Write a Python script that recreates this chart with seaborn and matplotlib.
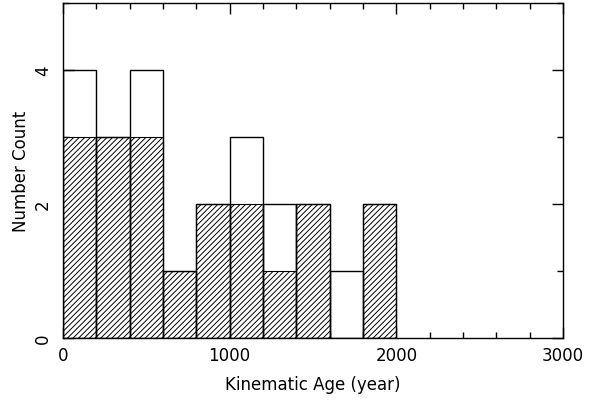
import numpy as np
import pandas as pd
import matplotlib
matplotlib.use("Agg")
import matplotlib.pyplot as plt
import seaborn as sns
from matplotlib.ticker import MultipleLocator

bin_edges = [0, 200, 400, 600, 800, 1000, 1200, 1400, 1600, 1800, 2000]
total_counts = [4, 3, 4, 1, 2, 3, 2, 2, 1, 2]
hatched_counts = [3, 3, 3, 1, 2, 2, 1, 2, 0, 2]

centers = [(a + b) / 2 for a, b in zip(bin_edges[:-1], bin_edges[1:])]
df = pd.DataFrame({"age": centers, "total": total_counts, "sub": hatched_counts})

sns.set_style("ticks")
plt.rcParams["hatch.linewidth"] = 0.7
plt.rcParams["font.family"] = ["DejaVu Sans"]
plt.rcParams["text.color"] = "black"
plt.rcParams["axes.labelcolor"] = "black"
plt.rcParams["xtick.color"] = "black"
plt.rcParams["ytick.color"] = "black"

fig = plt.figure(figsize=(5.92, 4.06), dpi=100)
ax = fig.add_axes([63 / 592, (406 - 339) / 406, 500 / 592, 335 / 406])

sns.histplot(data=df, x="age", weights="sub", bins=bin_edges, ax=ax,
             element="bars", fill=True, color="white", edgecolor="black",
             linewidth=0.8, hatch="//////", alpha=1.0)
sns.histplot(data=df, x="age", weights="total", bins=bin_edges, ax=ax,
             element="bars", fill=False, color="black", edgecolor="black",
             linewidth=1.0)

ax.set_xlim(0, 3000)
ax.set_ylim(0, 5)
ax.xaxis.set_major_locator(MultipleLocator(1000))
ax.xaxis.set_minor_locator(MultipleLocator(200))
ax.yaxis.set_major_locator(MultipleLocator(2))
ax.yaxis.set_minor_locator(MultipleLocator(1))
ax.tick_params(which="both", direction="in", top=True, right=True,
               width=1.0, color="black", labelsize=12, labelcolor="black")
ax.tick_params(which="major", length=8)
ax.tick_params(which="minor", length=4)
ax.tick_params(axis="x", which="major", pad=6)
ax.tick_params(axis="y", which="major", pad=8)
for lab in ax.get_yticklabels():
    lab.set_rotation(90)
    lab.set_va("center")
for s in ax.spines.values():
    s.set_visible(True)
    s.set_linewidth(1.0)
    s.set_color("black")

ax.set_xlabel("Kinematic Age (year)", fontsize=12, labelpad=8, color="black")
ax.set_ylabel("Number Count", fontsize=12, labelpad=3, color="black")

fig.savefig("out.png", dpi=100)
